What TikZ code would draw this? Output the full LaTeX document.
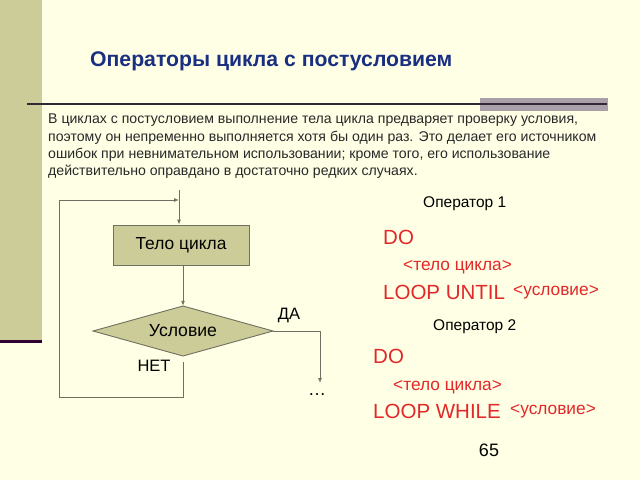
\documentclass[tikz,border=0pt]{standalone}
\usepackage{fontspec}
\setmainfont{Liberation Sans}
\usetikzlibrary{arrows.meta}
\definecolor{bg}{RGB}{255,255,230}
\definecolor{strip}{RGB}{204,204,153}
\definecolor{boxfill}{RGB}{204,204,153}
\definecolor{linec}{RGB}{112,112,96}
\definecolor{titlec}{RGB}{26,47,128}
\definecolor{redc}{RGB}{226,40,40}
\definecolor{rulec}{RGB}{51,40,51}
\definecolor{barc}{RGB}{170,160,170}
\definecolor{darkp}{RGB}{51,0,51}
\definecolor{bodyc}{RGB}{40,40,40}
\tikzset{
  flow/.style={draw=linec, line width=0.9pt},
  tip/.style={-{Latex[length=5pt,width=4pt]}},
  bodybox/.style={draw=linec, fill=boxfill, line width=0.9pt, minimum width=136pt, minimum height=40pt, inner sep=0pt, font=\fontsize{17.4}{20}\selectfont},
  condarea/.style={minimum width=180pt, minimum height=50pt, inner sep=0pt, font=\fontsize{17.6}{20}\selectfont},
  condshape/.style={draw=linec, fill=boxfill, line width=0.9pt},
  lbl/.style={font=\fontsize{16.5}{19}\selectfont, inner sep=0pt},
  oplbl/.style={font=\fontsize{15.5}{18}\selectfont, inner sep=0pt, anchor=west},
  redbig/.style={text=redc, font=\fontsize{20.5}{24}\selectfont, inner sep=0pt, anchor=west},
  redsmall/.style={text=redc, font=\fontsize{17.3}{20}\selectfont, inner sep=0pt, anchor=west},
}
\begin{document}
\begin{tikzpicture}[x=1pt,y=-1pt]
\useasboundingbox (0,0) rectangle (640,480);
\fill[bg] (0,0) rectangle (640,480);
\fill[strip] (0,0) rectangle (42,340);
\fill[darkp] (0,339.5) rectangle (42,342.5);
\fill[barc] (480,98) rectangle (608,111);
\draw[rulec, line width=1.4pt] (27,104) -- (607,104);

\node[anchor=west, inner sep=0pt, text=titlec, font=\bfseries\fontsize{21.2}{24}\selectfont] (title) at (90,61) {Операторы цикла с постусловием};

\node[anchor=north west, inner sep=0pt, align=left, text=bodyc, font=\fontsize{14.1}{17.3}\selectfont] (intro) at (48,114)
{В циклах с постусловием выполнение тела цикла предваряет проверку условия,\\
поэтому он непременно выполняется хотя бы один раз. Это делает его источником\\
ошибок при невнимательном использовании; кроме того, его использование\\
действительно оправдано в достаточно редких случаях.};

% flowchart
\node[bodybox] (body) at (181,245) {Тело цикла};
\coordinate (dc) at (183,331);
\path[condshape] ([yshift=-25pt]dc) -- ([xshift=90pt]dc) -- ([yshift=25pt]dc) -- ([xshift=-90pt]dc) -- cycle;
\node[condarea] (d) at (dc) {Условие};
\coordinate (top) at (179,190);
\coordinate (j) at (179,200);
\coordinate (loopL) at (59,397);
\coordinate (yesend) at (320,383);

\draw[flow,tip] (top) -- (top |- body.north);
\draw[flow,tip] (d.north |- body.south) -- (d.north);
\draw[flow,tip] ([yshift=-6pt]d.south) |- (loopL) |- (j);
\draw[flow,tip] (d.east) -| (yesend);

\node[lbl] (da) at (289,315) {ДА};
\node[lbl] (net) at (154,366) {НЕТ};
\node[inner sep=0pt, font=\fontsize{18}{20}\selectfont] (dots) at (317,395) {…};

% right side
\node[oplbl] (op1) at (423,204) {Оператор 1};
\node[redbig] (do1) at (383,237) {DO};
\node[redsmall] (body1) at (403,267) {<тело цикла>};
\node[redbig] (lu) at (383,292) {LOOP UNTIL};
\node[redsmall] (c1) at (513,292) {<условие>};

\node[oplbl] (op2) at (433,327) {Оператор 2};
\node[redbig] (do2) at (373,356) {DO};
\node[redsmall] (body2) at (393,387) {<тело цикла>};
\node[redbig] (lw) at (373,411) {LOOP WHILE};
\node[redsmall] (c2) at (510,411) {<условие>};

\node[inner sep=0pt, font=\fontsize{18}{20}\selectfont] (pg) at (489,450) {65};
\end{tikzpicture}
\end{document}
